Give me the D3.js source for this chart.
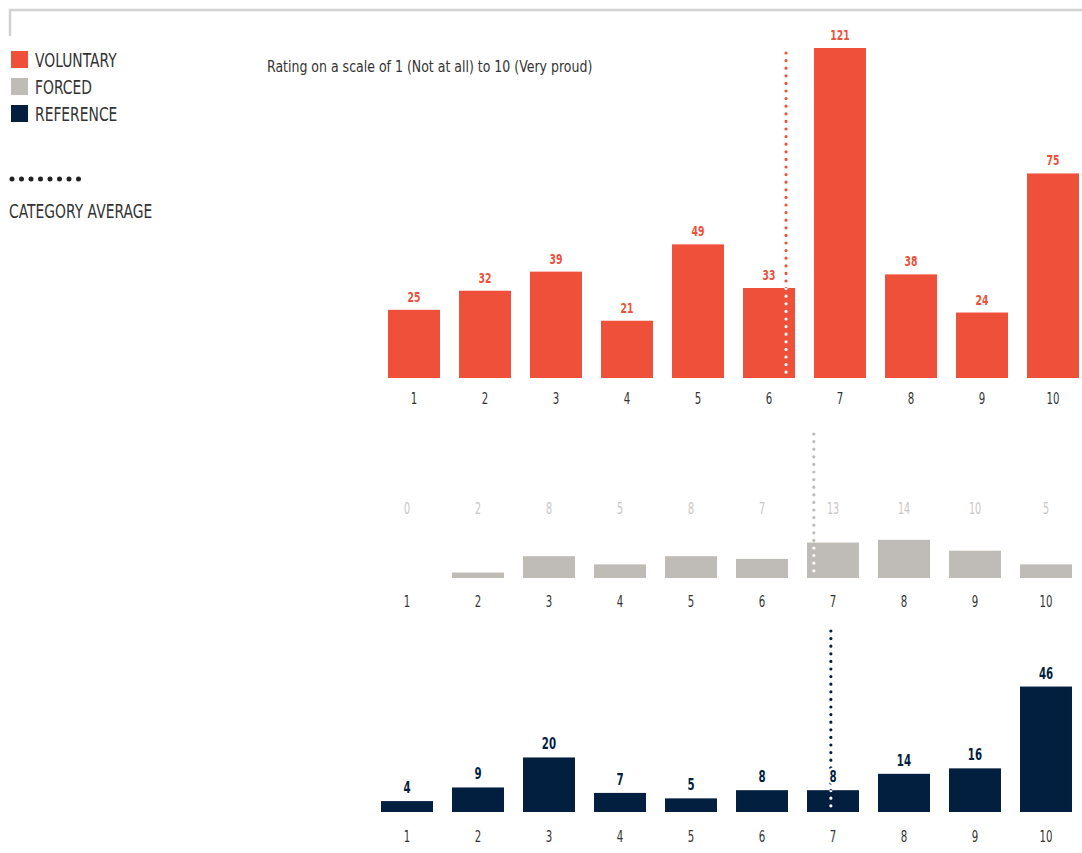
<!DOCTYPE html>
<html>
<head>
<meta charset="utf-8">
<script src="https://cdn.jsdelivr.net/npm/d3@7"></script>
<style>
  body { margin: 0; background: #fff; }
  svg text { font-family: "DejaVu Sans", sans-serif; }
</style>
</head>
<body>
<div id="chart"></div>
<script>
// data
var ratings = ["1", "2", "3", "4", "5", "6", "7", "8", "9", "10"];
var voluntary = [25, 32, 39, 21, 49, 33, 121, 38, 24, 75];
var forced = [0, 2, 8, 5, 8, 7, 13, 14, 10, 5];
var reference = [4, 9, 20, 7, 5, 8, 8, 14, 16, 46];
var averages = [6.24, 6.73, 6.97];
var seriesNames = ["VOLUNTARY", "FORCED", "REFERENCE"];
var colors = ["#ee503a", "#bfbbb6", "#031f3f"];

const width = 1082, height = 853;

// no condensed face installed, so squeeze the text horizontally around its x
function condense(sel, f) {
  sel.each(function () {
    var x = +d3.select(this).attr("x") || 0;
    d3.select(this)
      .attr("transform", "translate(" + x + ",0) scale(" + f + ",1) translate(" + (-x) + ",0)");
  });
}

var svg = d3.select("#chart").append("svg")
  .attr("width", width)
  .attr("height", height);

// top frame line
svg.append("path")
  .attr("d", "M10,36 V10 H1082")
  .attr("fill", "none")
  .attr("stroke", "#d2d2d2")
  .attr("stroke-width", 2.5);

// legend
var legend = svg.append("g");
seriesNames.forEach(function (name, i) {
  legend.append("rect")
    .attr("x", 11).attr("y", 51 + i * 27)
    .attr("width", 17).attr("height", 17)
    .attr("fill", colors[i]);
  legend.append("text")
    .attr("class", "leg")
    .attr("x", 35).attr("y", 67 + i * 27)
    .attr("fill", "#333")
    .style("font-size", "19px")
    .text(name);
});
legend.append("line")
  .attr("x1", 12).attr("x2", 88)
  .attr("y1", 179).attr("y2", 179)
  .attr("stroke", "#222")
  .attr("stroke-width", 5)
  .attr("stroke-linecap", "round")
  .attr("stroke-dasharray", "0 9.5");
legend.append("text")
  .attr("class", "leg")
  .attr("x", 9).attr("y", 218)
  .attr("fill", "#333")
  .style("font-size", "19px")
  .text("CATEGORY AVERAGE");
condense(legend.selectAll(".leg"), 0.73);

var title = svg.append("text")
  .attr("x", 267).attr("y", 72)
  .attr("fill", "#333")
  .style("font-size", "16.5px")
  .text("Rating on a scale of 1 (Not at all) to 10 (Very proud)");
condense(title, 0.76);

// bar heights share one scale
var y_scale = d3.scaleLinear().domain([0, 121]).range([0, 330]);

var panels = [
  {values: voluntary, color: colors[0], labelColor: colors[0], base: 378, left: 378.5, lineTop: 53, fixedLabel: null, bold: true, size: 14.5, tickOff: 25},
  {values: forced, color: colors[1], labelColor: "#c9c6c2", base: 578, left: 371.5, lineTop: 434, fixedLabel: 514, bold: false, size: 15, tickOff: 28},
  {values: reference, color: colors[2], labelColor: colors[2], base: 812, left: 371.5, lineTop: 631, fixedLabel: null, bold: true, size: 16, tickOff: 29}
];

panels.forEach(function (p, k) {
  var g = svg.append("g");
  var x_scale = d3.scaleBand()
    .domain(ratings)
    .range([p.left, p.left + 710])
    .paddingInner(0.268)
    .paddingOuter(0.134);
  var x_avg = d3.scaleLinear()
    .domain([1, 10])
    .range([x_scale("1") + x_scale.bandwidth() / 2, x_scale("10") + x_scale.bandwidth() / 2]);
  var ax = x_avg(averages[k]);

  // average line in series colour
  g.append("line")
    .attr("x1", ax).attr("x2", ax)
    .attr("y1", p.lineTop).attr("y2", p.base - 1)
    .attr("stroke", p.color)
    .attr("stroke-width", 3.2)
    .attr("stroke-linecap", "round")
    .attr("stroke-dasharray", "0 7.6");

  g.selectAll(".bar")
    .data(p.values)
    .join("rect")
    .attr("class", "bar")
    .attr("x", (d, i) => x_scale(ratings[i]))
    .attr("y", d => p.base - y_scale(d))
    .attr("width", x_scale.bandwidth())
    .attr("height", d => y_scale(d))
    .attr("fill", p.color);

  // white dots where the line crosses a bar
  var hit = ratings.findIndex(r => ax >= x_scale(r) && ax <= x_scale(r) + x_scale.bandwidth());
  if (hit >= 0) {
    var clipId = "clip" + k;
    svg.append("clipPath").attr("id", clipId)
      .append("rect")
      .attr("x", x_scale(ratings[hit]))
      .attr("y", p.base - y_scale(p.values[hit]))
      .attr("width", x_scale.bandwidth())
      .attr("height", y_scale(p.values[hit]));
    g.append("line")
      .attr("x1", ax).attr("x2", ax)
      .attr("y1", p.lineTop).attr("y2", p.base - 1)
      .attr("stroke", "#fff")
      .attr("stroke-width", 3.2)
      .attr("stroke-linecap", "round")
      .attr("stroke-dasharray", "0 7.6")
      .attr("clip-path", "url(#" + clipId + ")");
  }

  // value labels
  var vals = g.selectAll(".val")
    .data(p.values)
    .join("text")
    .attr("class", "val")
    .attr("x", (d, i) => x_scale(ratings[i]) + x_scale.bandwidth() / 2)
    .attr("y", d => p.fixedLabel ? p.fixedLabel : p.base - y_scale(d) - 8)
    .attr("text-anchor", "middle")
    .attr("fill", p.labelColor)
    .attr("stroke", "#fff")
    .attr("stroke-width", 5)
    .attr("paint-order", "stroke")
    .style("font-size", p.size + "px")
    .style("font-weight", p.bold ? "bold" : "normal")
    .text(d => d);
  condense(vals, 0.64);

  // rating axis
  var axis = g.append("g")
    .attr("transform", "translate(0," + (p.base + p.tickOff - 10) + ")")
    .call(d3.axisBottom(x_scale).tickSize(0).tickPadding(0));
  axis.select(".domain").remove();
  axis.selectAll("text")
    .attr("fill", "#333")
    .attr("dy", "0.71em")
    .style("font-size", "15px");
  condense(axis.selectAll("text"), 0.68);
});
</script>
</body>
</html>
